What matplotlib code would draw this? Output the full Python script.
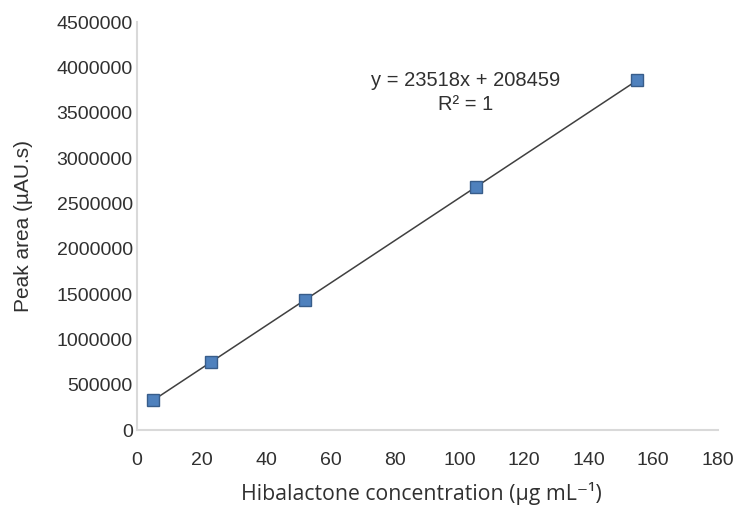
import numpy as np
import matplotlib
matplotlib.use("Agg")
import matplotlib.pyplot as plt

plt.rcParams['font.family'] = ['Liberation Sans', 'DejaVu Sans']

conc = [5, 23, 52, 105, 155]
area = [330000, 750000, 1430000, 2680000, 3860000]
xticks = [0, 20, 40, 60, 80, 100, 120, 140, 160, 180]
yticks = [0, 500000, 1000000, 1500000, 2000000, 2500000, 3000000, 3500000, 4000000, 4500000]
eq_text = "y = 23518x + 208459"
r2_text = "R² = 1"

fig = plt.figure(figsize=(7.4, 5.05), dpi=100)
ax = fig.add_axes([0.185, 0.1485, 0.785, 0.8075])

slope, intercept = np.polyfit(conc, area, 1)
xl = np.array([min(conc), max(conc)])
ax.plot(xl, slope * xl + intercept, color='#404040', lw=1.1, zorder=2)
ax.plot(conc, area, linestyle='none', marker='s', markersize=8,
        markerfacecolor='#4F81BD', markeredgecolor='#385D8A', markeredgewidth=1, zorder=3)

ax.set_xlim(0, 180)
ax.set_ylim(0, 4500000)
ax.set_xticks(xticks)
ax.set_yticks(yticks)
ax.set_xticklabels([str(v) for v in xticks])
ax.set_yticklabels([str(v) for v in yticks])
ax.tick_params(length=0, labelsize=14, colors='#303030')
ax.tick_params(axis='y', pad=3)
ax.tick_params(axis='x', pad=16)
for s in ['top', 'right']:
    ax.spines[s].set_visible(False)
for s in ['left', 'bottom']:
    ax.spines[s].set_color('#d9d9d9')
    ax.spines[s].set_linewidth(1.5)

ax.set_xlabel("Hibalactone concentration (µg mL⁻¹)", fontsize=15.3, color='#303030', labelpad=8,
              family=['Open Sans', 'DejaVu Sans'])
ax.xaxis.set_label_coords(0.49, -0.128)
ax.set_ylabel("Peak area (µAU.s)", fontsize=15, color='#303030', labelpad=17)

ax.text(102, 3860000, eq_text, ha='center', va='center', fontsize=14.5, color='#303030')
ax.text(102, 3590000, r2_text, ha='center', va='center', fontsize=14.5, color='#303030')

fig.savefig("out.png", dpi=100, facecolor='white')
